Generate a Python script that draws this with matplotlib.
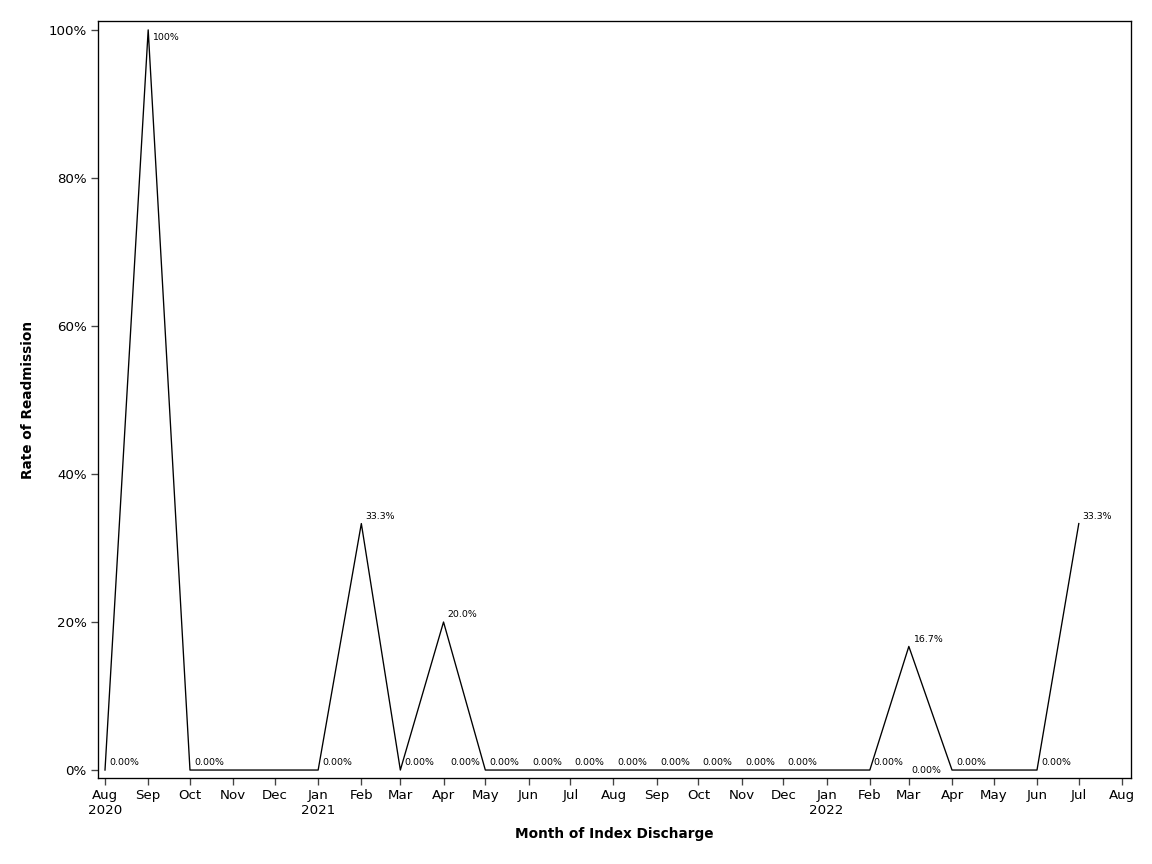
import matplotlib
matplotlib.use("Agg")
import matplotlib.pyplot as plt
import matplotlib.dates as mdates
import numpy as np
from datetime import date

# monthly readmission rate (%), points at the first of each month
months = [
    date(2020, 8, 1), date(2020, 9, 1), date(2020, 10, 1), date(2021, 1, 1),
    date(2021, 2, 1), date(2021, 3, 1), date(2021, 4, 1), date(2021, 5, 1),
    date(2021, 6, 1), date(2021, 7, 1), date(2021, 8, 1), date(2021, 9, 1),
    date(2021, 10, 1), date(2021, 11, 1), date(2021, 12, 1), date(2022, 2, 1),
    date(2022, 3, 1), date(2022, 4, 1), date(2022, 6, 1), date(2022, 7, 1),
]
rates = [0.0, 100.0, 0.0, 0.0, 33.3, 0.0, 20.0, 0.0, 0.0, 0.0, 0.0, 0.0,
         0.0, 0.0, 0.0, 0.0, 16.7, 0.0, 0.0, 33.3]

# extra zero labels that sit next to a second observation in the same month
extra_months = [date(2021, 4, 1), date(2022, 3, 1)]
extra_rates = [0.0, 0.0]

tick_months = [date(2020 + (7 + i) // 12, (7 + i) % 12 + 1, 1) for i in range(25)]
tick_labels = [d.strftime("%b") + ("\n" + str(d.year) if (i == 0 or d.month == 1) else "")
               for i, d in enumerate(tick_months)]
y_ticks = [0, 20, 40, 60, 80, 100]


def fmt(v):
    if v >= 100:
        return "100%"
    if v == 0:
        return "0.00%"
    return f"{v:.1f}%"


fig = plt.figure(figsize=(12, 9), dpi=96)
ax = fig.add_axes([0.0851, 0.0995, 0.8967, 0.8762])

x = mdates.date2num(months)
ax.plot(x, rates, color="black", linewidth=1.0)

for d, v in zip(months, rates):
    if v >= 100:
        ax.annotate(fmt(v), (mdates.date2num(d), v), xytext=(3, -2),
                    textcoords="offset points", ha="left", va="top", fontsize=7)
    else:
        ax.annotate(fmt(v), (mdates.date2num(d), v), xytext=(3, 2),
                    textcoords="offset points", ha="left", va="bottom", fontsize=7)

ax.annotate(fmt(extra_rates[0]), (mdates.date2num(extra_months[0]), extra_rates[0]),
            xytext=(5, 2), textcoords="offset points", ha="left", va="bottom", fontsize=7)
ax.annotate(fmt(extra_rates[1]), (mdates.date2num(extra_months[1]), extra_rates[1]),
            xytext=(2, -0.5), textcoords="offset points", ha="left", va="center", fontsize=7)

x0 = mdates.date2num(date(2020, 8, 1))
x1 = mdates.date2num(date(2022, 8, 1))
ax.set_xlim(x0 - 5.0, x1 + 6.5)
ax.set_ylim(-1.08, 101.2)

ax.set_xticks(mdates.date2num(tick_months))
ax.set_xticklabels(tick_labels, fontsize=10, linespacing=1.2)
ax.set_yticks(y_ticks)
ax.set_yticklabels([f"{t}%" for t in y_ticks], fontsize=10)
ax.tick_params(direction="out", length=5, width=1, color="#444444")

for s in ax.spines.values():
    s.set_linewidth(1.0)
    s.set_color("black")

ax.set_xlabel("Month of Index Discharge", fontsize=10.2, fontweight="bold", labelpad=7)
ax.set_ylabel("Rate of Readmission", fontsize=10.2, fontweight="bold", labelpad=10)

fig.savefig("out.png", dpi=96)
